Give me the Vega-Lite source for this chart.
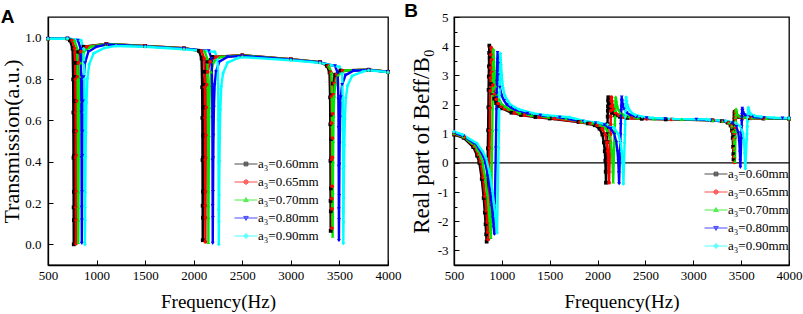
{
"$schema": "https://vega.github.io/schema/vega-lite/v6.json",
"padding": {"left": 0, "top": 1, "right": 0, "bottom": 0},
"background": "white",
"spacing": 1,
"config": {
  "font": "Liberation Serif",
  "view": {"stroke": "black", "strokeWidth": 1.3},
  "axis": {"grid": false, "domainColor": "black", "domainWidth": 1.3, "tickColor": "black", "tickWidth": 1, "labelFont": "Liberation Serif", "labelFontSize": 13, "labelColor": "black", "titleFont": "Liberation Serif", "titleFontWeight": "normal", "titleColor": "black", "labelFlush": false, "labelOverlap": false}
},
"datasets": {
"A": [
{"s":"0.60","f":500,"v":0.995},{"s":"0.60","f":700,"v":0.996},
{"s":"0.60","f":725,"v":0.987},{"s":"0.60","f":753,"v":0.947},{"s":"0.60","f":759,"v":0.798},{"s":"0.60","f":761,"v":0.638},{"s":"0.60","f":762.5,"v":0.419},{"s":"0.60","f":763.8,"v":0.179},{"s":"0.60","f":765,"v":0.0},{"s":"0.60","f":766,"v":0.117},{"s":"0.60","f":767,"v":0.254},{"s":"0.60","f":768.5,"v":0.429},{"s":"0.60","f":770,"v":0.547},{"s":"0.60","f":773,"v":0.693},{"s":"0.60","f":778,"v":0.81},{"s":"0.60","f":787,"v":0.878},{"s":"0.60","f":810,"v":0.932},{"s":"0.60","f":865,"v":0.956},
{"s":"0.60","f":1100,"v":0.97},{"s":"0.60","f":1500,"v":0.96},{"s":"0.60","f":1900,"v":0.949},
{"s":"0.60","f":2053,"v":0.936},{"s":"0.60","f":2081,"v":0.899},{"s":"0.60","f":2087,"v":0.76},{"s":"0.60","f":2089,"v":0.612},{"s":"0.60","f":2090.5,"v":0.408},{"s":"0.60","f":2091.8,"v":0.187},{"s":"0.60","f":2093,"v":0.02},{"s":"0.60","f":2094,"v":0.129},{"s":"0.60","f":2095,"v":0.255},{"s":"0.60","f":2096.5,"v":0.418},{"s":"0.60","f":2098,"v":0.527},{"s":"0.60","f":2101,"v":0.663},{"s":"0.60","f":2106,"v":0.771},{"s":"0.60","f":2115,"v":0.835},{"s":"0.60","f":2138,"v":0.884},{"s":"0.60","f":2193,"v":0.907},
{"s":"0.60","f":2500,"v":0.915},{"s":"0.60","f":3000,"v":0.896},{"s":"0.60","f":3300,"v":0.882},
{"s":"0.60","f":3370,"v":0.864},{"s":"0.60","f":3398,"v":0.832},{"s":"0.60","f":3404,"v":0.711},{"s":"0.60","f":3406,"v":0.581},{"s":"0.60","f":3407.5,"v":0.404},{"s":"0.60","f":3408.8,"v":0.21},{"s":"0.60","f":3410,"v":0.065},{"s":"0.60","f":3411,"v":0.16},{"s":"0.60","f":3412,"v":0.271},{"s":"0.60","f":3413.5,"v":0.413},{"s":"0.60","f":3415,"v":0.509},{"s":"0.60","f":3418,"v":0.627},{"s":"0.60","f":3423,"v":0.722},{"s":"0.60","f":3432,"v":0.778},{"s":"0.60","f":3455,"v":0.821},{"s":"0.60","f":3510,"v":0.841},
{"s":"0.60","f":3800,"v":0.845},{"s":"0.60","f":4000,"v":0.835},

{"s":"0.65","f":500,"v":0.995},{"s":"0.65","f":700,"v":0.996},
{"s":"0.65","f":748,"v":0.987},{"s":"0.65","f":776,"v":0.947},{"s":"0.65","f":782,"v":0.798},{"s":"0.65","f":784,"v":0.638},{"s":"0.65","f":785.5,"v":0.419},{"s":"0.65","f":786.8,"v":0.179},{"s":"0.65","f":788,"v":0.004},{"s":"0.65","f":789.1,"v":0.117},{"s":"0.65","f":790.2,"v":0.254},{"s":"0.65","f":791.9,"v":0.429},{"s":"0.65","f":793.5,"v":0.547},{"s":"0.65","f":796.8,"v":0.693},{"s":"0.65","f":802.3,"v":0.81},{"s":"0.65","f":812.2,"v":0.878},{"s":"0.65","f":837.5,"v":0.932},{"s":"0.65","f":898,"v":0.956},
{"s":"0.65","f":1100,"v":0.97},{"s":"0.65","f":1500,"v":0.96},{"s":"0.65","f":1900,"v":0.949},
{"s":"0.65","f":2080,"v":0.936},{"s":"0.65","f":2108,"v":0.899},{"s":"0.65","f":2114,"v":0.76},{"s":"0.65","f":2116,"v":0.612},{"s":"0.65","f":2117.5,"v":0.408},{"s":"0.65","f":2118.8,"v":0.187},{"s":"0.65","f":2120,"v":0.012},{"s":"0.65","f":2121.1,"v":0.129},{"s":"0.65","f":2122.2,"v":0.255},{"s":"0.65","f":2123.9,"v":0.418},{"s":"0.65","f":2125.5,"v":0.527},{"s":"0.65","f":2128.8,"v":0.663},{"s":"0.65","f":2134.3,"v":0.771},{"s":"0.65","f":2144.2,"v":0.835},{"s":"0.65","f":2169.5,"v":0.884},{"s":"0.65","f":2230,"v":0.907},
{"s":"0.65","f":2500,"v":0.915},{"s":"0.65","f":3000,"v":0.896},{"s":"0.65","f":3300,"v":0.882},
{"s":"0.65","f":3383,"v":0.864},{"s":"0.65","f":3411,"v":0.832},{"s":"0.65","f":3417,"v":0.713},{"s":"0.65","f":3419,"v":0.586},{"s":"0.65","f":3420.5,"v":0.411},{"s":"0.65","f":3421.8,"v":0.221},{"s":"0.65","f":3423,"v":0.078},{"s":"0.65","f":3424.1,"v":0.171},{"s":"0.65","f":3425.2,"v":0.281},{"s":"0.65","f":3426.9,"v":0.421},{"s":"0.65","f":3428.5,"v":0.514},{"s":"0.65","f":3431.8,"v":0.631},{"s":"0.65","f":3437.3,"v":0.725},{"s":"0.65","f":3447.2,"v":0.779},{"s":"0.65","f":3472.5,"v":0.822},{"s":"0.65","f":3533,"v":0.841},
{"s":"0.65","f":3800,"v":0.845},{"s":"0.65","f":4000,"v":0.835},

{"s":"0.70","f":500,"v":0.995},{"s":"0.70","f":700,"v":0.996},
{"s":"0.70","f":772,"v":0.987},{"s":"0.70","f":800,"v":0.947},{"s":"0.70","f":806,"v":0.798},{"s":"0.70","f":808,"v":0.638},{"s":"0.70","f":809.5,"v":0.419},{"s":"0.70","f":810.8,"v":0.179},{"s":"0.70","f":812,"v":0.01},{"s":"0.70","f":813.3,"v":0.117},{"s":"0.70","f":814.5,"v":0.254},{"s":"0.70","f":816.4,"v":0.429},{"s":"0.70","f":818.3,"v":0.547},{"s":"0.70","f":822,"v":0.693},{"s":"0.70","f":828.3,"v":0.81},{"s":"0.70","f":839.5,"v":0.878},{"s":"0.70","f":868,"v":0.932},{"s":"0.70","f":937,"v":0.956},
{"s":"0.70","f":1100,"v":0.969},{"s":"0.70","f":1500,"v":0.959},{"s":"0.70","f":1900,"v":0.948},
{"s":"0.70","f":2111,"v":0.936},{"s":"0.70","f":2139,"v":0.899},{"s":"0.70","f":2145,"v":0.76},{"s":"0.70","f":2147,"v":0.612},{"s":"0.70","f":2148.5,"v":0.408},{"s":"0.70","f":2149.8,"v":0.187},{"s":"0.70","f":2151,"v":0.01},{"s":"0.70","f":2152.3,"v":0.129},{"s":"0.70","f":2153.5,"v":0.255},{"s":"0.70","f":2155.4,"v":0.418},{"s":"0.70","f":2157.3,"v":0.527},{"s":"0.70","f":2161,"v":0.663},{"s":"0.70","f":2167.3,"v":0.771},{"s":"0.70","f":2178.5,"v":0.835},{"s":"0.70","f":2207,"v":0.884},{"s":"0.70","f":2276,"v":0.907},
{"s":"0.70","f":2500,"v":0.914},{"s":"0.70","f":3000,"v":0.895},{"s":"0.70","f":3300,"v":0.881},
{"s":"0.70","f":3390,"v":0.864},{"s":"0.70","f":3418,"v":0.83},{"s":"0.70","f":3424,"v":0.706},{"s":"0.70","f":3426,"v":0.572},{"s":"0.70","f":3427.5,"v":0.389},{"s":"0.70","f":3428.8,"v":0.19},{"s":"0.70","f":3430,"v":0.04},{"s":"0.70","f":3431.3,"v":0.138},{"s":"0.70","f":3432.5,"v":0.252},{"s":"0.70","f":3434.4,"v":0.399},{"s":"0.70","f":3436.3,"v":0.498},{"s":"0.70","f":3440,"v":0.62},{"s":"0.70","f":3446.3,"v":0.718},{"s":"0.70","f":3457.5,"v":0.775},{"s":"0.70","f":3486,"v":0.82},{"s":"0.70","f":3555,"v":0.841},
{"s":"0.70","f":3800,"v":0.845},{"s":"0.70","f":4000,"v":0.835},

{"s":"0.80","f":500,"v":0.995},{"s":"0.80","f":700,"v":0.996},
{"s":"0.80","f":808,"v":0.987},{"s":"0.80","f":836,"v":0.947},{"s":"0.80","f":842,"v":0.798},{"s":"0.80","f":844,"v":0.638},{"s":"0.80","f":845.5,"v":0.419},{"s":"0.80","f":846.8,"v":0.179},{"s":"0.80","f":848,"v":0.005},{"s":"0.80","f":849.5,"v":0.117},{"s":"0.80","f":851,"v":0.254},{"s":"0.80","f":853.3,"v":0.429},{"s":"0.80","f":855.5,"v":0.547},{"s":"0.80","f":860,"v":0.693},{"s":"0.80","f":867.5,"v":0.81},{"s":"0.80","f":881,"v":0.878},{"s":"0.80","f":915.5,"v":0.932},{"s":"0.80","f":998,"v":0.956},
{"s":"0.80","f":1100,"v":0.967},{"s":"0.80","f":1500,"v":0.958},{"s":"0.80","f":1900,"v":0.947},
{"s":"0.80","f":2156,"v":0.936},{"s":"0.80","f":2184,"v":0.899},{"s":"0.80","f":2190,"v":0.76},{"s":"0.80","f":2192,"v":0.612},{"s":"0.80","f":2193.5,"v":0.408},{"s":"0.80","f":2194.8,"v":0.187},{"s":"0.80","f":2196,"v":0.005},{"s":"0.80","f":2197.5,"v":0.129},{"s":"0.80","f":2199,"v":0.255},{"s":"0.80","f":2201.3,"v":0.418},{"s":"0.80","f":2203.5,"v":0.527},{"s":"0.80","f":2208,"v":0.663},{"s":"0.80","f":2215.5,"v":0.771},{"s":"0.80","f":2229,"v":0.835},{"s":"0.80","f":2263.5,"v":0.884},{"s":"0.80","f":2346,"v":0.907},
{"s":"0.80","f":2500,"v":0.912},{"s":"0.80","f":3000,"v":0.894},{"s":"0.80","f":3300,"v":0.88},
{"s":"0.80","f":3455,"v":0.863},{"s":"0.80","f":3483,"v":0.829},{"s":"0.80","f":3489,"v":0.701},{"s":"0.80","f":3491,"v":0.565},{"s":"0.80","f":3492.5,"v":0.377},{"s":"0.80","f":3493.8,"v":0.172},{"s":"0.80","f":3495,"v":0.018},{"s":"0.80","f":3496.5,"v":0.119},{"s":"0.80","f":3498,"v":0.236},{"s":"0.80","f":3500.3,"v":0.387},{"s":"0.80","f":3502.5,"v":0.488},{"s":"0.80","f":3507,"v":0.614},{"s":"0.80","f":3514.5,"v":0.714},{"s":"0.80","f":3528,"v":0.773},{"s":"0.80","f":3562.5,"v":0.819},{"s":"0.80","f":3645,"v":0.84},
{"s":"0.80","f":3800,"v":0.844},{"s":"0.80","f":4000,"v":0.834},

{"s":"0.90","f":500,"v":0.995},{"s":"0.90","f":700,"v":0.996},
{"s":"0.90","f":840,"v":0.987},{"s":"0.90","f":868,"v":0.947},{"s":"0.90","f":874,"v":0.798},{"s":"0.90","f":876,"v":0.638},{"s":"0.90","f":877.5,"v":0.419},{"s":"0.90","f":878.8,"v":0.179},{"s":"0.90","f":880,"v":0.0},{"s":"0.90","f":882,"v":0.116},{"s":"0.90","f":884,"v":0.252},{"s":"0.90","f":887,"v":0.426},{"s":"0.90","f":890,"v":0.542},{"s":"0.90","f":896,"v":0.687},{"s":"0.90","f":906,"v":0.803},{"s":"0.90","f":924,"v":0.871},{"s":"0.90","f":970,"v":0.924},{"s":"0.90","f":1080,"v":0.95},
{"s":"0.90","f":1200,"v":0.96},{"s":"0.90","f":1500,"v":0.956},{"s":"0.90","f":1900,"v":0.944},
{"s":"0.90","f":2218,"v":0.931},{"s":"0.90","f":2246,"v":0.893},{"s":"0.90","f":2252,"v":0.752},{"s":"0.90","f":2254,"v":0.602},{"s":"0.90","f":2255.5,"v":0.395},{"s":"0.90","f":2256.8,"v":0.169},{"s":"0.90","f":2258,"v":0.0},{"s":"0.90","f":2260,"v":0.11},{"s":"0.90","f":2262,"v":0.239},{"s":"0.90","f":2265,"v":0.405},{"s":"0.90","f":2268,"v":0.515},{"s":"0.90","f":2274,"v":0.653},{"s":"0.90","f":2284,"v":0.764},{"s":"0.90","f":2302,"v":0.828},{"s":"0.90","f":2348,"v":0.879},{"s":"0.90","f":2458,"v":0.902},
{"s":"0.90","f":2500,"v":0.906},{"s":"0.90","f":3000,"v":0.891},{"s":"0.90","f":3300,"v":0.878},
{"s":"0.90","f":3500,"v":0.859},{"s":"0.90","f":3528,"v":0.825},{"s":"0.90","f":3534,"v":0.695},{"s":"0.90","f":3536,"v":0.557},{"s":"0.90","f":3537.5,"v":0.367},{"s":"0.90","f":3538.8,"v":0.16},{"s":"0.90","f":3540,"v":0.005},{"s":"0.90","f":3542,"v":0.107},{"s":"0.90","f":3544,"v":0.225},{"s":"0.90","f":3547,"v":0.378},{"s":"0.90","f":3550,"v":0.48},{"s":"0.90","f":3556,"v":0.607},{"s":"0.90","f":3566,"v":0.709},{"s":"0.90","f":3584,"v":0.768},{"s":"0.90","f":3630,"v":0.815},{"s":"0.90","f":3740,"v":0.836},
{"s":"0.90","f":3800,"v":0.842},{"s":"0.90","f":4000,"v":0.833}
],
"B": [
{"s":"0.60","f":500,"v":0.97},
{"s":"0.60","f":601,"v":0.859},{"s":"0.60","f":701,"v":0.541},{"s":"0.60","f":741,"v":0.249},{"s":"0.60","f":765,"v":0.001},{"s":"0.60","f":790,"v":-0.55},{"s":"0.60","f":810,"v":-1.202},{"s":"0.60","f":822,"v":-1.701},{"s":"0.60","f":830,"v":-2.101},{"s":"0.60","f":836,"v":-2.448},{"s":"0.60","f":841,"v":-2.7},
{"s":"0.60","f":853.6,"v":0.499},{"s":"0.60","f":856.4,"v":1.117},{"s":"0.60","f":859.2,"v":1.903},{"s":"0.60","f":861.4,"v":2.501},{"s":"0.60","f":863.4,"v":2.958},{"s":"0.60","f":865.1,"v":3.308},{"s":"0.60","f":867,"v":3.771},{"s":"0.60","f":869,"v":4.02},
{"s":"0.60","f":873,"v":3.599},{"s":"0.60","f":878,"v":3.201},{"s":"0.60","f":887,"v":2.7},{"s":"0.60","f":900,"v":2.4},{"s":"0.60","f":920,"v":2.201},{"s":"0.60","f":940,"v":2.049},{"s":"0.60","f":970,"v":1.951},{"s":"0.60","f":1000,"v":1.87},{"s":"0.60","f":1100,"v":1.719},{"s":"0.60","f":1200,"v":1.641},{"s":"0.60","f":1350,"v":1.571},{"s":"0.60","f":1500,"v":1.52},
{"s":"0.60","f":1800,"v":1.401},{"s":"0.60","f":1900,"v":1.35},{"s":"0.60","f":1970,"v":1.29},{"s":"0.60","f":2020,"v":1.171},{"s":"0.60","f":2050,"v":0.971},{"s":"0.60","f":2066,"v":0.7},{"s":"0.60","f":2075,"v":0.4},{"s":"0.60","f":2081,"v":0.08},{"s":"0.60","f":2085,"v":-0.301},{"s":"0.60","f":2088,"v":-0.68},
{"s":"0.60","f":2098.8,"v":0.715},{"s":"0.60","f":2101.2,"v":0.984},{"s":"0.60","f":2103.6,"v":1.327},{"s":"0.60","f":2105.5,"v":1.588},{"s":"0.60","f":2107.2,"v":1.787},{"s":"0.60","f":2108.6,"v":1.939},{"s":"0.60","f":2110.3,"v":2.142},{"s":"0.60","f":2112,"v":2.25},
{"s":"0.60","f":2116,"v":2.12},{"s":"0.60","f":2122,"v":1.98},{"s":"0.60","f":2132,"v":1.85},{"s":"0.60","f":2152,"v":1.72},{"s":"0.60","f":2182,"v":1.64},{"s":"0.60","f":2232,"v":1.58},{"s":"0.60","f":2312,"v":1.54},{"s":"0.60","f":2462,"v":1.51},{"s":"0.60","f":2712,"v":1.49},
{"s":"0.60","f":3200,"v":1.46},{"s":"0.60","f":3300,"v":1.43},{"s":"0.60","f":3360,"v":1.379},{"s":"0.60","f":3390,"v":1.28},{"s":"0.60","f":3405,"v":1.101},{"s":"0.60","f":3412,"v":0.85},{"s":"0.60","f":3416,"v":0.55},{"s":"0.60","f":3418.5,"v":0.3},{"s":"0.60","f":3420,"v":0.12},
{"s":"0.60","f":3425.4,"v":0.896},{"s":"0.60","f":3426.6,"v":1.046},{"s":"0.60","f":3427.8,"v":1.237},{"s":"0.60","f":3428.8,"v":1.382},{"s":"0.60","f":3429.6,"v":1.492},{"s":"0.60","f":3430.3,"v":1.577},{"s":"0.60","f":3431.2,"v":1.69},{"s":"0.60","f":3432,"v":1.75},
{"s":"0.60","f":3435,"v":1.7},{"s":"0.60","f":3440,"v":1.64},{"s":"0.60","f":3450,"v":1.6},{"s":"0.60","f":3472,"v":1.57},{"s":"0.60","f":3512,"v":1.55},{"s":"0.60","f":3592,"v":1.53},{"s":"0.60","f":3732,"v":1.52},{"s":"0.60","f":4000,"v":1.51},

{"s":"0.65","f":500,"v":0.99},
{"s":"0.65","f":606,"v":0.882},{"s":"0.65","f":711,"v":0.569},{"s":"0.65","f":753,"v":0.281},{"s":"0.65","f":778,"v":0.037},{"s":"0.65","f":804,"v":-0.505},{"s":"0.65","f":825,"v":-1.146},{"s":"0.65","f":838,"v":-1.637},{"s":"0.65","f":846.4,"v":-2.03},{"s":"0.65","f":852.7,"v":-2.372},{"s":"0.65","f":858,"v":-2.62},
{"s":"0.65","f":871.5,"v":0.507},{"s":"0.65","f":874.5,"v":1.112},{"s":"0.65","f":877.5,"v":1.88},{"s":"0.65","f":879.9,"v":2.465},{"s":"0.65","f":882,"v":2.912},{"s":"0.65","f":883.8,"v":3.254},{"s":"0.65","f":885.9,"v":3.707},{"s":"0.65","f":888,"v":3.95},
{"s":"0.65","f":892.2,"v":3.541},{"s":"0.65","f":897.5,"v":3.154},{"s":"0.65","f":906.9,"v":2.666},{"s":"0.65","f":920.6,"v":2.375},{"s":"0.65","f":941.6,"v":2.181},{"s":"0.65","f":962.6,"v":2.034},{"s":"0.65","f":994,"v":1.939},{"s":"0.65","f":1025.6,"v":1.86},{"s":"0.65","f":1130.6,"v":1.713},{"s":"0.65","f":1235.6,"v":1.637},{"s":"0.65","f":1393,"v":1.569},{"s":"0.65","f":1550.6,"v":1.52},
{"s":"0.65","f":1818,"v":1.401},{"s":"0.65","f":1923,"v":1.35},{"s":"0.65","f":1996,"v":1.29},{"s":"0.65","f":2049,"v":1.171},{"s":"0.65","f":2080,"v":0.971},{"s":"0.65","f":2097,"v":0.7},{"s":"0.65","f":2106.3,"v":0.4},{"s":"0.65","f":2112.6,"v":0.08},{"s":"0.65","f":2116.8,"v":-0.301},{"s":"0.65","f":2120,"v":-0.68},
{"s":"0.65","f":2131.3,"v":0.715},{"s":"0.65","f":2133.8,"v":0.984},{"s":"0.65","f":2136.3,"v":1.327},{"s":"0.65","f":2138.3,"v":1.588},{"s":"0.65","f":2140,"v":1.787},{"s":"0.65","f":2141.5,"v":1.939},{"s":"0.65","f":2143.3,"v":2.142},{"s":"0.65","f":2145,"v":2.25},
{"s":"0.65","f":2149.2,"v":2.12},{"s":"0.65","f":2155.5,"v":1.98},{"s":"0.65","f":2166,"v":1.85},{"s":"0.65","f":2187,"v":1.72},{"s":"0.65","f":2218.5,"v":1.64},{"s":"0.65","f":2271,"v":1.58},{"s":"0.65","f":2355,"v":1.54},{"s":"0.65","f":2512.5,"v":1.51},{"s":"0.65","f":2775,"v":1.49},
{"s":"0.65","f":3208,"v":1.458},{"s":"0.65","f":3308,"v":1.426},{"s":"0.65","f":3368,"v":1.372},{"s":"0.65","f":3398,"v":1.265},{"s":"0.65","f":3413,"v":1.073},{"s":"0.65","f":3420,"v":0.804},{"s":"0.65","f":3424,"v":0.481},{"s":"0.65","f":3426.5,"v":0.213},{"s":"0.65","f":3428,"v":0.02},
{"s":"0.65","f":3433.4,"v":0.858},{"s":"0.65","f":3434.6,"v":1.02},{"s":"0.65","f":3435.8,"v":1.226},{"s":"0.65","f":3436.8,"v":1.382},{"s":"0.65","f":3437.6,"v":1.502},{"s":"0.65","f":3438.3,"v":1.593},{"s":"0.65","f":3439.2,"v":1.715},{"s":"0.65","f":3440,"v":1.78},
{"s":"0.65","f":3443,"v":1.724},{"s":"0.65","f":3448,"v":1.657},{"s":"0.65","f":3458,"v":1.612},{"s":"0.65","f":3480,"v":1.578},{"s":"0.65","f":3520,"v":1.556},{"s":"0.65","f":3600,"v":1.534},{"s":"0.65","f":3740,"v":1.522},{"s":"0.65","f":4000,"v":1.511},

{"s":"0.70","f":500,"v":1.01},
{"s":"0.70","f":597,"v":0.904},{"s":"0.70","f":717,"v":0.595},{"s":"0.70","f":765,"v":0.311},{"s":"0.70","f":794,"v":0.071},{"s":"0.70","f":824,"v":-0.464},{"s":"0.70","f":848,"v":-1.096},{"s":"0.70","f":862,"v":-1.581},{"s":"0.70","f":872,"v":-1.968},{"s":"0.70","f":879,"v":-2.306},{"s":"0.70","f":885,"v":-2.55},
{"s":"0.70","f":897.2,"v":0.52},{"s":"0.70","f":899.9,"v":1.114},{"s":"0.70","f":902.6,"v":1.868},{"s":"0.70","f":904.7,"v":2.442},{"s":"0.70","f":906.6,"v":2.881},{"s":"0.70","f":908.2,"v":3.216},{"s":"0.70","f":910.1,"v":3.661},{"s":"0.70","f":912,"v":3.9},
{"s":"0.70","f":916.8,"v":3.499},{"s":"0.70","f":922.8,"v":3.12},{"s":"0.70","f":933.6,"v":2.642},{"s":"0.70","f":949.2,"v":2.357},{"s":"0.70","f":973.2,"v":2.167},{"s":"0.70","f":997.2,"v":2.023},{"s":"0.70","f":1033.2,"v":1.93},{"s":"0.70","f":1069.2,"v":1.853},{"s":"0.70","f":1189.2,"v":1.709},{"s":"0.70","f":1309.2,"v":1.634},{"s":"0.70","f":1489.2,"v":1.567},{"s":"0.70","f":1669.2,"v":1.519},
{"s":"0.70","f":1832,"v":1.411},{"s":"0.70","f":1947,"v":1.361},{"s":"0.70","f":2027,"v":1.302},{"s":"0.70","f":2085,"v":1.184},{"s":"0.70","f":2119,"v":0.985},{"s":"0.70","f":2138,"v":0.717},{"s":"0.70","f":2148,"v":0.42},{"s":"0.70","f":2155,"v":0.103},{"s":"0.70","f":2159.5,"v":-0.274},{"s":"0.70","f":2163,"v":-0.65},
{"s":"0.70","f":2175.2,"v":0.735},{"s":"0.70","f":2177.9,"v":1.003},{"s":"0.70","f":2180.6,"v":1.343},{"s":"0.70","f":2182.7,"v":1.602},{"s":"0.70","f":2184.6,"v":1.8},{"s":"0.70","f":2186.2,"v":1.952},{"s":"0.70","f":2188.1,"v":2.152},{"s":"0.70","f":2190,"v":2.26},
{"s":"0.70","f":2194.6,"v":2.128},{"s":"0.70","f":2201.5,"v":1.986},{"s":"0.70","f":2213,"v":1.855},{"s":"0.70","f":2236,"v":1.723},{"s":"0.70","f":2270.5,"v":1.642},{"s":"0.70","f":2328,"v":1.581},{"s":"0.70","f":2420,"v":1.541},{"s":"0.70","f":2592.5,"v":1.51},{"s":"0.70","f":2880,"v":1.49},
{"s":"0.70","f":3204,"v":1.459},{"s":"0.70","f":3309,"v":1.427},{"s":"0.70","f":3372,"v":1.374},{"s":"0.70","f":3403.5,"v":1.27},{"s":"0.70","f":3419.2,"v":1.081},{"s":"0.70","f":3426.6,"v":0.818},{"s":"0.70","f":3430.8,"v":0.502},{"s":"0.70","f":3433.4,"v":0.239},{"s":"0.70","f":3435,"v":0.05},
{"s":"0.70","f":3440.4,"v":0.907},{"s":"0.70","f":3441.6,"v":1.072},{"s":"0.70","f":3442.8,"v":1.283},{"s":"0.70","f":3443.8,"v":1.443},{"s":"0.70","f":3444.6,"v":1.566},{"s":"0.70","f":3445.3,"v":1.659},{"s":"0.70","f":3446.2,"v":1.783},{"s":"0.70","f":3447,"v":1.85},
{"s":"0.70","f":3450.2,"v":1.78},{"s":"0.70","f":3455.4,"v":1.696},{"s":"0.70","f":3465.9,"v":1.64},{"s":"0.70","f":3489,"v":1.598},{"s":"0.70","f":3531,"v":1.57},{"s":"0.70","f":3615,"v":1.542},{"s":"0.70","f":3762,"v":1.528},{"s":"0.70","f":4000,"v":1.514},

{"s":"0.80","f":500,"v":1.03},
{"s":"0.80","f":598,"v":0.927},{"s":"0.80","f":733,"v":0.625},{"s":"0.80","f":787,"v":0.347},{"s":"0.80","f":819,"v":0.112},{"s":"0.80","f":853,"v":-0.411},{"s":"0.80","f":880,"v":-1.028},{"s":"0.80","f":896,"v":-1.502},{"s":"0.80","f":907,"v":-1.881},{"s":"0.80","f":915,"v":-2.211},{"s":"0.80","f":922,"v":-2.45},
{"s":"0.80","f":936.9,"v":0.515},{"s":"0.80","f":940.2,"v":1.089},{"s":"0.80","f":943.5,"v":1.818},{"s":"0.80","f":946.1,"v":2.372},{"s":"0.80","f":948.4,"v":2.796},{"s":"0.80","f":950.4,"v":3.12},{"s":"0.80","f":952.7,"v":3.549},{"s":"0.80","f":955,"v":3.78},
{"s":"0.80","f":960.4,"v":3.399},{"s":"0.80","f":967.2,"v":3.039},{"s":"0.80","f":979.3,"v":2.585},{"s":"0.80","f":996.9,"v":2.314},{"s":"0.80","f":1023.9,"v":2.134},{"s":"0.80","f":1050.9,"v":1.997},{"s":"0.80","f":1091.4,"v":1.908},{"s":"0.80","f":1131.9,"v":1.835},{"s":"0.80","f":1266.9,"v":1.698},{"s":"0.80","f":1401.9,"v":1.628},{"s":"0.80","f":1604.4,"v":1.564},
{"s":"0.80","f":1851,"v":1.42},{"s":"0.80","f":1981,"v":1.367},{"s":"0.80","f":2072,"v":1.306},{"s":"0.80","f":2137,"v":1.183},{"s":"0.80","f":2176,"v":0.977},{"s":"0.80","f":2196,"v":0.699},{"s":"0.80","f":2208,"v":0.39},{"s":"0.80","f":2216,"v":0.062},{"s":"0.80","f":2221,"v":-0.33},{"s":"0.80","f":2225,"v":-0.72},
{"s":"0.80","f":2237.2,"v":0.694},{"s":"0.80","f":2239.9,"v":0.967},{"s":"0.80","f":2242.6,"v":1.314},{"s":"0.80","f":2244.7,"v":1.579},{"s":"0.80","f":2246.6,"v":1.781},{"s":"0.80","f":2248.2,"v":1.935},{"s":"0.80","f":2250.1,"v":2.14},{"s":"0.80","f":2252,"v":2.25},
{"s":"0.80","f":2257.2,"v":2.12},{"s":"0.80","f":2265,"v":1.98},{"s":"0.80","f":2278,"v":1.85},{"s":"0.80","f":2304,"v":1.72},{"s":"0.80","f":2343,"v":1.64},{"s":"0.80","f":2408,"v":1.58},{"s":"0.80","f":2512,"v":1.54},{"s":"0.80","f":2707,"v":1.51},{"s":"0.80","f":3032,"v":1.49},
{"s":"0.80","f":3184,"v":1.456},{"s":"0.80","f":3324,"v":1.42},{"s":"0.80","f":3408,"v":1.359},{"s":"0.80","f":3450,"v":1.24},{"s":"0.80","f":3471,"v":1.025},{"s":"0.80","f":3480.8,"v":0.725},{"s":"0.80","f":3486.4,"v":0.365},{"s":"0.80","f":3489.9,"v":0.065},{"s":"0.80","f":3492,"v":-0.15},
{"s":"0.80","f":3501,"v":0.812},{"s":"0.80","f":3503,"v":0.997},{"s":"0.80","f":3505,"v":1.234},{"s":"0.80","f":3506.6,"v":1.413},{"s":"0.80","f":3508,"v":1.551},{"s":"0.80","f":3509.2,"v":1.656},{"s":"0.80","f":3510.6,"v":1.795},{"s":"0.80","f":3512,"v":1.87},
{"s":"0.80","f":3516.2,"v":1.796},{"s":"0.80","f":3523.2,"v":1.707},{"s":"0.80","f":3537.2,"v":1.648},{"s":"0.80","f":3568,"v":1.604},{"s":"0.80","f":3624,"v":1.574},{"s":"0.80","f":3736,"v":1.544},{"s":"0.80","f":3932,"v":1.53},{"s":"0.80","f":4000,"v":1.527},

{"s":"0.90","f":500,"v":1.07},
{"s":"0.90","f":590,"v":0.967},{"s":"0.90","f":740,"v":0.666},{"s":"0.90","f":800,"v":0.389},{"s":"0.90","f":836,"v":0.155},{"s":"0.90","f":873,"v":-0.367},{"s":"0.90","f":903,"v":-0.983},{"s":"0.90","f":921,"v":-1.455},{"s":"0.90","f":933,"v":-1.833},{"s":"0.90","f":942,"v":-2.162},{"s":"0.90","f":950,"v":-2.4},
{"s":"0.90","f":965.8,"v":0.527},{"s":"0.90","f":969.3,"v":1.093},{"s":"0.90","f":972.8,"v":1.813},{"s":"0.90","f":975.6,"v":2.36},{"s":"0.90","f":978,"v":2.778},{"s":"0.90","f":980.1,"v":3.098},{"s":"0.90","f":982.6,"v":3.522},{"s":"0.90","f":985,"v":3.75},
{"s":"0.90","f":991,"v":3.374},{"s":"0.90","f":998.5,"v":3.019},{"s":"0.90","f":1012,"v":2.571},{"s":"0.90","f":1031.5,"v":2.303},{"s":"0.90","f":1061.5,"v":2.126},{"s":"0.90","f":1091.5,"v":1.991},{"s":"0.90","f":1136.5,"v":1.903},{"s":"0.90","f":1181.5,"v":1.831},{"s":"0.90","f":1331.5,"v":1.696},{"s":"0.90","f":1481.5,"v":1.626},{"s":"0.90","f":1706.5,"v":1.563},
{"s":"0.90","f":1867,"v":1.429},{"s":"0.90","f":2007,"v":1.377},{"s":"0.90","f":2105,"v":1.315},{"s":"0.90","f":2175,"v":1.192},{"s":"0.90","f":2217,"v":0.985},{"s":"0.90","f":2239,"v":0.706},{"s":"0.90","f":2252,"v":0.395},{"s":"0.90","f":2260,"v":0.065},{"s":"0.90","f":2266,"v":-0.328},{"s":"0.90","f":2270,"v":-0.72},
{"s":"0.90","f":2282.6,"v":0.694},{"s":"0.90","f":2285.4,"v":0.967},{"s":"0.90","f":2288.2,"v":1.314},{"s":"0.90","f":2290.4,"v":1.579},{"s":"0.90","f":2292.4,"v":1.781},{"s":"0.90","f":2294.1,"v":1.935},{"s":"0.90","f":2296,"v":2.14},{"s":"0.90","f":2298,"v":2.25},
{"s":"0.90","f":2303.6,"v":2.12},{"s":"0.90","f":2312,"v":1.98},{"s":"0.90","f":2326,"v":1.85},{"s":"0.90","f":2354,"v":1.72},{"s":"0.90","f":2396,"v":1.64},{"s":"0.90","f":2466,"v":1.58},{"s":"0.90","f":2578,"v":1.54},{"s":"0.90","f":2788,"v":1.51},{"s":"0.90","f":3138,"v":1.49},
{"s":"0.90","f":3170,"v":1.474},{"s":"0.90","f":3340,"v":1.437},{"s":"0.90","f":3442,"v":1.374},{"s":"0.90","f":3493,"v":1.25},{"s":"0.90","f":3518.5,"v":1.026},{"s":"0.90","f":3530.4,"v":0.713},{"s":"0.90","f":3537.2,"v":0.337},{"s":"0.90","f":3541.4,"v":0.024},{"s":"0.90","f":3544,"v":-0.2},
{"s":"0.90","f":3558,"v":0.8},{"s":"0.90","f":3561,"v":0.993},{"s":"0.90","f":3564.2,"v":1.239},{"s":"0.90","f":3566.6,"v":1.425},{"s":"0.90","f":3568.8,"v":1.568},{"s":"0.90","f":3570.7,"v":1.677},{"s":"0.90","f":3572.8,"v":1.822},{"s":"0.90","f":3575,"v":1.9},
{"s":"0.90","f":3580.1,"v":1.82},{"s":"0.90","f":3588.6,"v":1.724},{"s":"0.90","f":3605.6,"v":1.66},{"s":"0.90","f":3643,"v":1.612},{"s":"0.90","f":3711,"v":1.58},{"s":"0.90","f":3847,"v":1.548},{"s":"0.90","f":4000,"v":1.535}
]
},
"hconcat": [
{
  "width": 340, "height": 248,
  "title": {"text": "A", "offset": -10, "font": "Liberation Sans", "fontSize": 19, "fontWeight": "bold", "color": "black", "anchor": "start", "frame": "bounds"},
  "data": {"name": "A"},
  "layer": [
    {
      "mark": {"type": "line", "strokeWidth": 2.4},
      "encoding": {
        "x": {"field": "f", "type": "quantitative", "scale": {"domain": [500, 4000], "nice": false, "zero": false},
          "axis": {"title": "Frequency(Hz)", "titleFont": "Liberation Serif", "titleFontWeight": "normal", "titleFontSize": 19, "titlePadding": 10, "values": [500,750,1000,1250,1500,1750,2000,2250,2500,2750,3000,3250,3500,3750,4000], "labelExpr": "datum.value % 500 === 0 ? '' + datum.value : ''", "tickSize": {"condition": {"test": "datum.value % 500 === 0", "value": -5}, "value": -3}, "labelPadding": 9, "labelOverlap": false}},
        "y": {"field": "v", "type": "quantitative", "scale": {"domain": [-0.1, 1.1], "nice": false, "zero": false},
          "axis": {"title": "Transmission(a.u.)", "titleFont": "Liberation Serif", "titleFontWeight": "normal", "titleFontSize": 22, "titlePadding": 1, "values": [0,0.1,0.2,0.3,0.4,0.5,0.6,0.7,0.8,0.9,1.0], "labelExpr": "round(datum.value*10) % 2 === 0 ? format(datum.value, '.1f') : ''", "tickSize": {"condition": {"test": "round(datum.value*10) % 2 === 0", "value": -5}, "value": -3}, "labelPadding": 12, "labelOverlap": false}},
        "color": {"field": "s", "type": "nominal", "scale": {"domain": ["0.60","0.65","0.70","0.80","0.90"], "range": ["#000000","#ff0000","#00e600","#0000ff","#00ffff"]}, "legend": null}
      }
    },
    {
      "mark": {"type": "point", "filled": true, "size": 14, "opacity": 1},
      "encoding": {
        "x": {"field": "f", "type": "quantitative"},
        "y": {"field": "v", "type": "quantitative"},
        "color": {"field": "s", "type": "nominal", "legend": null},
        "shape": {"field": "s", "type": "nominal", "scale": {"domain": ["0.60","0.65","0.70","0.80","0.90"], "range": ["square","circle","triangle-up","triangle-down","diamond"]}, "legend": null}
      }
    },
    {
      "transform": [{"filter": "datum.f < 0"}],
      "mark": {"type": "point", "filled": true},
      "encoding": {
        "x": {"field": "f", "type": "quantitative"},
        "y": {"field": "v", "type": "quantitative"},
        "shape": {"field": "s", "type": "nominal", "scale": {"domain": ["0.60","0.65","0.70","0.80","0.90"], "range": ["M-1.6,0H1.6M-0.26,-0.26H0.26V0.26H-0.26Z","M-1.6,0H1.6M0.3,0A0.3,0.3,0,1,1,-0.3,0A0.3,0.3,0,1,1,0.3,0Z","M-1.6,0H1.6M0,-0.34L0.32,0.22H-0.32Z","M-1.6,0H1.6M0,0.34L0.32,-0.22H-0.32Z","M-1.6,0H1.6M0,-0.36L0.3,0L0,0.36L-0.3,0Z"]},
          "legend": {"orient": "none", "legendX": 190, "legendY": 139, "title": null, "labelExpr": "'a₃=' + datum.label + 'mm'", "labelFont": "Liberation Serif", "labelFontSize": 13, "labelColor": "black", "symbolSize": 207, "symbolStrokeWidth": 1, "rowPadding": 3, "labelOffset": 4, "padding": 0, "offset": 0}},
        "fill": {"field": "s", "type": "nominal", "scale": {"domain": ["0.60","0.65","0.70","0.80","0.90"], "range": ["#000000","#ff0000","#00e600","#0000ff","#00ffff"]},
          "legend": {"orient": "none", "legendX": 190, "legendY": 139, "title": null, "labelExpr": "'a₃=' + datum.label + 'mm'", "labelFont": "Liberation Serif", "labelFontSize": 13, "labelColor": "black", "symbolSize": 207, "symbolStrokeWidth": 1, "rowPadding": 3, "labelOffset": 4, "padding": 0, "offset": 0}},
        "stroke": {"field": "s", "type": "nominal", "scale": {"domain": ["0.60","0.65","0.70","0.80","0.90"], "range": ["#000000","#ff0000","#00e600","#0000ff","#00ffff"]},
          "legend": {"orient": "none", "legendX": 190, "legendY": 139, "title": null, "labelExpr": "'a₃=' + datum.label + 'mm'", "labelFont": "Liberation Serif", "labelFontSize": 13, "labelColor": "black", "symbolSize": 207, "symbolStrokeWidth": 1, "rowPadding": 3, "labelOffset": 4, "padding": 0, "offset": 0}}
      }
    }
  ],
  "resolve": {"scale": {"shape": "independent", "fill": "independent", "stroke": "independent"}}
},
{
  "width": 335, "height": 248,
  "title": {"text": "B", "offset": -10, "dx": -6, "font": "Liberation Sans", "fontSize": 19, "fontWeight": "bold", "color": "black", "anchor": "start", "frame": "bounds"},
  "data": {"name": "B"},
  "layer": [
    {
      "data": {"values": [{}]},
      "mark": {"type": "rule", "color": "black", "strokeWidth": 1.2},
      "encoding": {"y": {"datum": 0, "type": "quantitative", "axis": {"orient": "left", "title": null, "labels": false, "domain": false, "values": [-2.5,-1.5,-0.5,0.5,1.5,2.5,3.5,4.5], "tickSize": -3}}}
    },
    {
      "mark": {"type": "line", "strokeWidth": 2.4},
      "encoding": {
        "x": {"field": "f", "type": "quantitative", "scale": {"domain": [500, 4000], "nice": false, "zero": false},
          "axis": {"title": "Frequency(Hz)", "titleFont": "Liberation Serif", "titleFontWeight": "normal", "titleFontSize": 19, "titlePadding": 10, "values": [500,750,1000,1250,1500,1750,2000,2250,2500,2750,3000,3250,3500,3750,4000], "labelExpr": "datum.value % 500 === 0 ? '' + datum.value : ''", "tickSize": {"condition": {"test": "datum.value % 500 === 0", "value": -5}, "value": -3}, "labelPadding": 9, "labelOverlap": false}},
        "y": {"field": "v", "type": "quantitative", "scale": {"domain": [-3.5, 5], "nice": false, "zero": false},
          "axis": {"orient": "left", "title": "Real part of  Beff/B₀", "titleFont": "Liberation Serif", "titleFontWeight": "normal", "titleFontSize": 23, "titlePadding": 4, "values": [-3,-2,-1,0,1,2,3,4,5], "labelExpr": "'' + datum.value", "tickSize": -5, "labelPadding": 11, "labelOverlap": false}},
        "color": {"field": "s", "type": "nominal", "scale": {"domain": ["0.60","0.65","0.70","0.80","0.90"], "range": ["#000000","#ff0000","#00e600","#0000ff","#00ffff"]}, "legend": null}
      }
    },
    {
      "mark": {"type": "point", "filled": true, "size": 14, "opacity": 1},
      "encoding": {
        "x": {"field": "f", "type": "quantitative"},
        "y": {"field": "v", "type": "quantitative", "axis": null},
        "color": {"field": "s", "type": "nominal", "legend": null},
        "shape": {"field": "s", "type": "nominal", "scale": {"domain": ["0.60","0.65","0.70","0.80","0.90"], "range": ["square","circle","triangle-up","triangle-down","diamond"]}, "legend": null}
      }
    },
    {
      "transform": [{"filter": "datum.f < 0"}],
      "mark": {"type": "point", "filled": true},
      "encoding": {
        "x": {"field": "f", "type": "quantitative"},
        "y": {"field": "v", "type": "quantitative", "axis": null},
        "shape": {"field": "s", "type": "nominal", "scale": {"domain": ["0.60","0.65","0.70","0.80","0.90"], "range": ["M-1.6,0H1.6M-0.26,-0.26H0.26V0.26H-0.26Z","M-1.6,0H1.6M0.3,0A0.3,0.3,0,1,1,-0.3,0A0.3,0.3,0,1,1,0.3,0Z","M-1.6,0H1.6M0,-0.34L0.32,0.22H-0.32Z","M-1.6,0H1.6M0,0.34L0.32,-0.22H-0.32Z","M-1.6,0H1.6M0,-0.36L0.3,0L0,0.36L-0.3,0Z"]},
          "legend": {"orient": "none", "legendX": 254, "legendY": 149, "title": null, "labelExpr": "'a₃=' + datum.label + 'mm'", "labelFont": "Liberation Serif", "labelFontSize": 13, "labelColor": "black", "symbolSize": 207, "symbolStrokeWidth": 1, "rowPadding": 3, "labelOffset": 4, "padding": 0, "offset": 0}},
        "fill": {"field": "s", "type": "nominal", "scale": {"domain": ["0.60","0.65","0.70","0.80","0.90"], "range": ["#000000","#ff0000","#00e600","#0000ff","#00ffff"]},
          "legend": {"orient": "none", "legendX": 254, "legendY": 149, "title": null, "labelExpr": "'a₃=' + datum.label + 'mm'", "labelFont": "Liberation Serif", "labelFontSize": 13, "labelColor": "black", "symbolSize": 207, "symbolStrokeWidth": 1, "rowPadding": 3, "labelOffset": 4, "padding": 0, "offset": 0}},
        "stroke": {"field": "s", "type": "nominal", "scale": {"domain": ["0.60","0.65","0.70","0.80","0.90"], "range": ["#000000","#ff0000","#00e600","#0000ff","#00ffff"]},
          "legend": {"orient": "none", "legendX": 254, "legendY": 149, "title": null, "labelExpr": "'a₃=' + datum.label + 'mm'", "labelFont": "Liberation Serif", "labelFontSize": 13, "labelColor": "black", "symbolSize": 207, "symbolStrokeWidth": 1, "rowPadding": 3, "labelOffset": 4, "padding": 0, "offset": 0}}
      }
    }
  ],
  "resolve": {"scale": {"shape": "independent", "fill": "independent", "stroke": "independent"}, "axis": {"y": "independent"}}
}
]
}
